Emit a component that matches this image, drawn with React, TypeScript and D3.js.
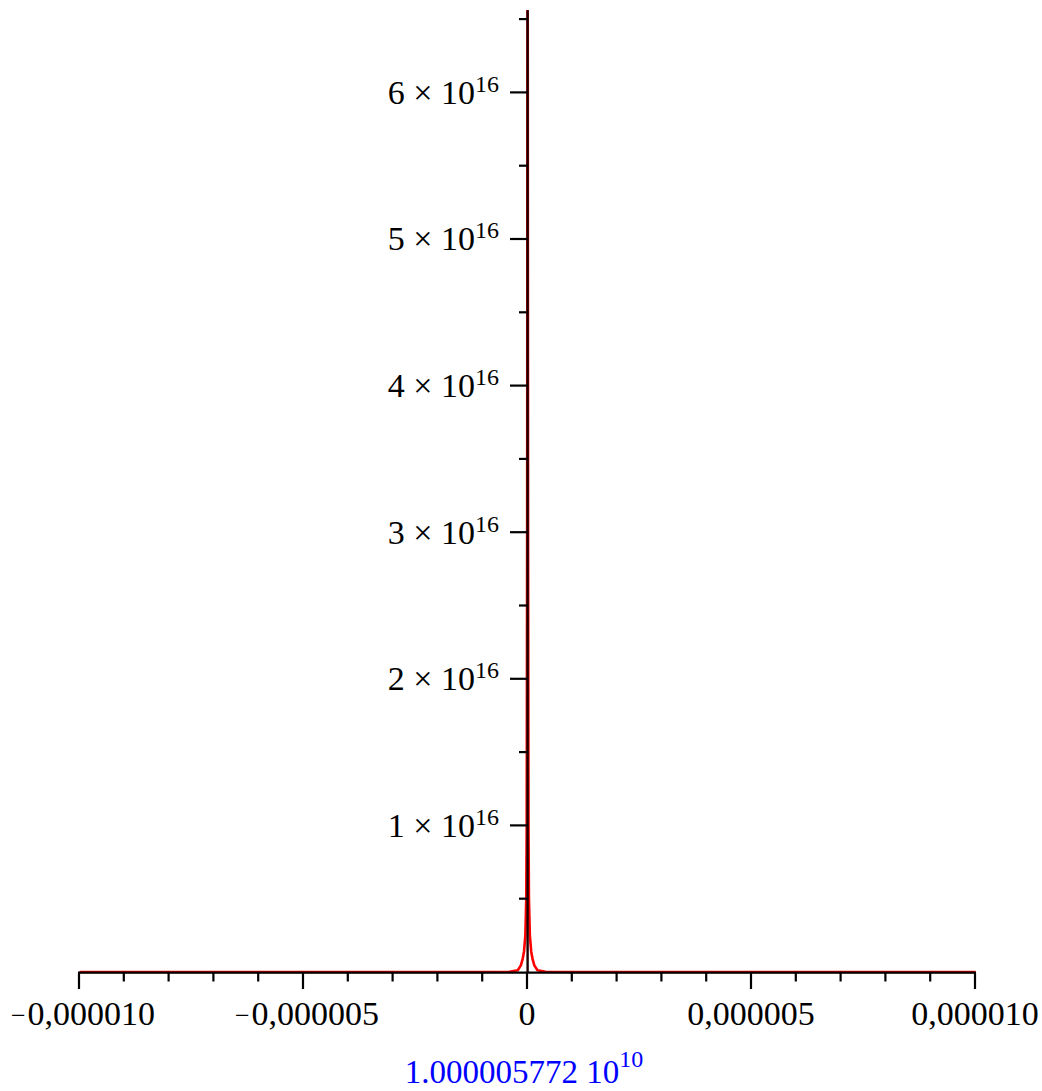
import * as d3 from "d3";

// spike (x and y in plot units)
const curveX = [
  -1e-5, -1e-6, -4e-7, -2.2e-7, -1.5e-7, -1.1e-7, -8e-8, -5e-8, -3e-8, -2e-8, -1e-8, 0,
  1e-8, 2e-8, 3e-8, 5e-8, 8e-8, 1.1e-7, 1.5e-7, 2.2e-7, 4e-7, 1e-6, 1e-5,
];
const curveY = [
  0, 0, 0.002e16, 0.012e16, 0.045e16, 0.09e16, 0.14e16, 0.25e16, 0.5e16, 1.0e16, 3e16, 8e16,
  3e16, 1.0e16, 0.5e16, 0.25e16, 0.14e16, 0.09e16, 0.045e16, 0.012e16, 0.002e16, 0, 0,
];

const xMajor = [-1e-5, -5e-6, 0, 5e-6, 1e-5];
const xTickLabels = ["0,000010", "0,000005", "0", "0,000005", "0,000010"];
const xTickNegative = [true, true, false, false, false];
const yMajor = [1e16, 2e16, 3e16, 4e16, 5e16, 6e16];
const yMantissa = ["1", "2", "3", "4", "5", "6"];
const yExponent = "16";
const offsetLabel = "1.000005772 10";
const offsetExponent = "10";

const width = 1042;
const height = 1091;

export default function App() {
  const x = d3.scaleLinear().domain([-1e-5, 1e-5]).range([79, 975]);
  const y = d3.scaleLinear().domain([0, 6.56e16]).range([972, 10.3]);

  const xMinor = d3.range(-10, 11).map((i) => i * 1e-6);
  const yMinor = d3.range(1, 14).map((i) => i * 0.5e16);

  const line = d3
    .line<number>()
    .x((_, i) => x(curveX[i]))
    .y((d) => y(d));

  const font = "'Liberation Serif', 'Times New Roman', serif";
  const axisY = 972.6;
  const axisX = 527.6;

  return (
    <svg
      width={width}
      height={height}
      style={{ position: "absolute", left: 0, top: 0, background: "#fff" }}
    >
      <defs>
        <clipPath id="plot">
          <rect x={70} y={10} width={912} height={964} />
        </clipPath>
      </defs>

      <path
        d={line(curveY) || ""}
        fill="none"
        stroke="#ff0000"
        strokeWidth={2.6}
        strokeLinejoin="round"
        clipPath="url(#plot)"
        transform="translate(0.6,0)"
      />

      {/* x axis */}
      <line x1={x(-1e-5) - 1} x2={x(1e-5) + 1} y1={axisY} y2={axisY} stroke="#000" strokeWidth={2.2} />
      {xMinor.map((t, i) => {
        const major = i % 5 === 0;
        return (
          <line
            key={i}
            x1={x(t)}
            x2={x(t)}
            y1={axisY}
            y2={major ? 989 : 981.5}
            stroke="#000"
            strokeWidth={2.2}
          />
        );
      })}
      {xMajor.map((t, i) => (
        <text
          key={i}
          x={x(t) + (xTickNegative[i] ? 4 : 0)}
          y={1025}
          textAnchor="middle"
          fontFamily={font}
          fontSize={34}
        >
          {xTickNegative[i] ? (
            <tspan fontSize={26} dy={-1}>
              {"\u2212"}
            </tspan>
          ) : null}
          <tspan dx={xTickNegative[i] ? 2 : 0} dy={xTickNegative[i] ? 1 : 0}>
            {xTickLabels[i]}
          </tspan>
        </text>
      ))}

      {/* y axis */}
      <line x1={axisX} x2={axisX} y1={axisY} y2={y(6.56e16)} stroke="#1a0000" strokeWidth={2.4} />
      {yMinor.map((t, i) => {
        const major = i % 2 === 1;
        return (
          <line
            key={i}
            x1={major ? 510 : 519}
            x2={axisX}
            y1={y(t)}
            y2={y(t)}
            stroke="#000"
            strokeWidth={2.2}
          />
        );
      })}
      {yMajor.map((t, i) => (
        <text
          key={i}
          x={499}
          y={y(t) + 11.5}
          textAnchor="end"
          fontFamily={font}
          fontSize={34}
        >
          {yMantissa[i]} × 10
          <tspan fontSize={24} dy={-12}>
            {yExponent}
          </tspan>
        </text>
      ))}

      <text
        x={524}
        y={1083}
        textAnchor="middle"
        fontFamily={font}
        fontSize={33}
        fill="#0000ff"
      >
        {offsetLabel}
        <tspan fontSize={24} dy={-16}>
          {offsetExponent}
        </tspan>
      </text>
    </svg>
  );
}
